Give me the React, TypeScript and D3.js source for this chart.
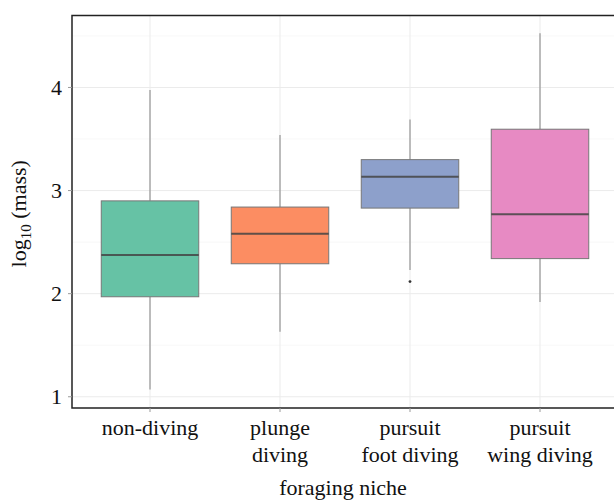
import React from "react";
import * as d3 from "d3";

const categories = ["non-diving", "plunge diving", "pursuit foot diving", "pursuit wing diving"];
const labelLines = [["non-diving"], ["plunge", "diving"], ["pursuit", "foot diving"], ["pursuit", "wing diving"]];
const lowerWhisker = [1.07, 1.63, 2.23, 1.92];
const q1 = [1.97, 2.29, 2.83, 2.34];
const median = [2.375, 2.58, 3.135, 2.77];
const q3 = [2.9, 2.84, 3.3, 3.595];
const upperWhisker = [3.975, 3.54, 3.69, 4.525];
const outliers = [[], [], [2.117], []] as number[][];
const colors = ["#66c2a5", "#fc8d62", "#8da0cb", "#e78ac3"];
const yTicks = [1, 2, 3, 4];
const yMinor = [1.5, 2.5, 3.5, 4.5];

const W = 614, H = 500;
const left = 72, right = 618, top = 15.5, bottom = 408;

export default function App() {
  // ggplot-style discrete expansion: 0.6 of a step on each side => paddingOuter 0.1 with half-band offset
  const x = d3.scaleBand<string>().domain(categories).range([left, right]).paddingOuter(0.1).paddingInner(0);
  const step = x.step();
  const cx = (i: number) => (x(categories[i]) as number) + x.bandwidth() / 2;
  const y = d3.scaleLinear().domain([0.891, 4.698]).range([bottom, top]);
  const bw = step * 0.75;
  const fontStyle = { fontFamily: '"Liberation Serif", "DejaVu Serif", Times, serif' };
  return (
    <svg width={W} height={H} style={{ position: "absolute", left: 0, top: 0, background: "#fff" }}>
      <defs>
        <clipPath id="panel">
          <rect x={left} y={top} width={W - left} height={bottom - top} />
        </clipPath>
      </defs>
      <g clipPath="url(#panel)">
        {yMinor.map((v) => (
          <line key={"mi" + v} x1={left} x2={W} y1={y(v)} y2={y(v)} stroke="#f4f4f4" strokeWidth={0.6} />
        ))}
        {yTicks.map((v) => (
          <line key={"ma" + v} x1={left} x2={W} y1={y(v)} y2={y(v)} stroke="#ebebeb" strokeWidth={1} />
        ))}
        {categories.map((c, i) => (
          <line key={"vx" + c} x1={cx(i)} x2={cx(i)} y1={top} y2={bottom} stroke="#ebebeb" strokeWidth={1} />
        ))}
        {categories.map((c, i) => (
          <g key={c}>
            <line x1={cx(i)} x2={cx(i)} y1={y(upperWhisker[i])} y2={y(q3[i])} stroke="#8c8c8c" strokeWidth={1.1} />
            <line x1={cx(i)} x2={cx(i)} y1={y(q1[i])} y2={y(lowerWhisker[i])} stroke="#8c8c8c" strokeWidth={1.1} />
            <rect x={cx(i) - bw / 2} y={y(q3[i])} width={bw} height={y(q1[i]) - y(q3[i])} fill={colors[i]} stroke="#777" strokeWidth={1} />
            <line x1={cx(i) - bw / 2} x2={cx(i) + bw / 2} y1={y(median[i])} y2={y(median[i])} stroke="#444" strokeOpacity={0.85} strokeWidth={2} />
            {outliers[i].map((o, k) => (
              <circle key={k} cx={cx(i)} cy={y(o)} r={1.4} fill="#333" />
            ))}
          </g>
        ))}
      </g>
      <path d={`M${W},${top}H${left}V${bottom}H${W}`} fill="none" stroke="#222" strokeWidth={1.5} />
      {yTicks.map((v) => (
        <g key={"yt" + v}>
          <line x1={left - 4} x2={left} y1={y(v)} y2={y(v)} stroke="#999" strokeWidth={1} />
          <text x={left - 10} y={y(v)} dy="0.35em" textAnchor="end" fontSize={22} fill="#111" style={fontStyle}>{v}</text>
        </g>
      ))}
      {categories.map((c, i) => (
        <g key={"xt" + c}>
          <line x1={cx(i)} x2={cx(i)} y1={bottom} y2={bottom + 4} stroke="#999" strokeWidth={1} />
          <text x={cx(i)} y={435} textAnchor="middle" fontSize={22} fill="#111" style={fontStyle}>
            {labelLines[i].map((l, k) => (
              <tspan key={k} x={cx(i)} y={435 + k * 26.5}>{l}</tspan>
            ))}
          </text>
        </g>
      ))}
      <text x={343} y={495} textAnchor="middle" fontSize={22} fill="#111" style={fontStyle}>foraging niche</text>
      <text transform={`translate(26,${(top + bottom) / 2 + 2}) rotate(-90)`} textAnchor="middle" fontSize={22} fill="#111" style={fontStyle}>
        log<tspan fontSize={15} dy={5}>10</tspan><tspan dy={-5}> (mass)</tspan>
      </text>
    </svg>
  );
}
